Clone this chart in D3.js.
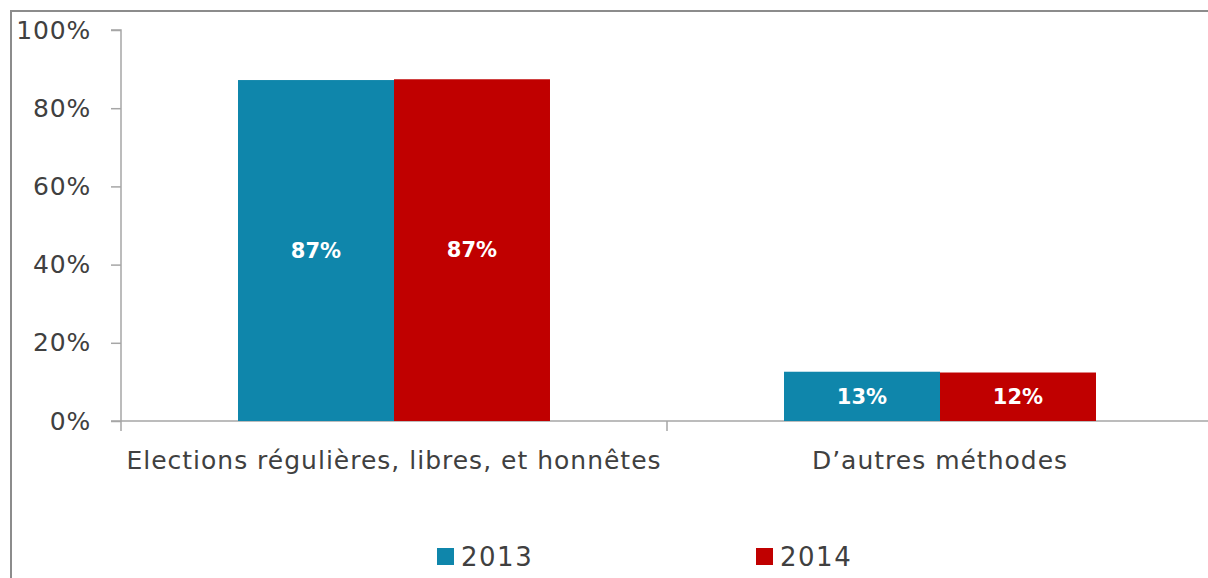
<html>
<head>
<meta charset="utf-8">
<script src="https://d3js.org/d3.v7.min.js"></script>
<style>
body {
	margin: 0;
	background: #fff;
}
text {
	font-family: "Century Gothic", "DejaVu Sans", sans-serif;
}
</style>
</head>
<body>
<div id="chart"></div>
<script>
	var categories = ["Elections régulières, libres, et honnêtes", "D\u2019autres méthodes"];
	var series = ["2013", "2014"];
	var values2013 = [87.2, 12.6];
	var values2014 = [87.4, 12.4];
	var yTicks = [0, 20, 40, 60, 80, 100];

	var colors = ["#0f86ab", "#c00000"];

	var data = categories.map(function(c, i) {
		return { category: c, "2013": values2013[i], "2014": values2014[i] };
	});

	var width = 1208, height = 578;
	var margin = {top: 30, left: 121, bottom: 157};

	var svg = d3.select("#chart").append("svg")
		.attr("width", width)
		.attr("height", height);

	// outer frame
	svg.append("path")
		.attr("d", "M11,578 V11 H1208")
		.attr("fill", "none")
		.attr("stroke", "#8c8c8c")
		.attr("stroke-width", 2);

	var y = d3.scaleLinear()
		.domain([0, 100])
		.range([height - margin.bottom, margin.top]);

	var x0 = d3.scaleBand()
		.domain(categories)
		.range([margin.left, margin.left + 1092])
		.paddingInner(0.4286)
		.paddingOuter(0.2143);

	var x1 = d3.scaleBand()
		.domain(series)
		.range([0, x0.bandwidth()]);

	var z = d3.scaleOrdinal().domain(series).range(colors);

	var step = x0.step();

	// y axis
	var yAxis = svg.append("g")
		.attr("transform", "translate(" + margin.left + ",0)")
		.call(d3.axisLeft(y).tickValues(yTicks).tickSize(10).tickPadding(20).tickFormat(d => d + "%"));
	yAxis.select(".domain").attr("stroke", "#a6a6a6").attr("stroke-width", 1.5)
		.attr("d", "M-10," + y(100) + "H0V" + y(0));
	yAxis.selectAll(".tick line").attr("stroke", "#a6a6a6").attr("stroke-width", 1.5);
	yAxis.selectAll(".tick text").attr("fill", "#404040")
		.style("font-size", "25px").style("letter-spacing", "0.8px");

	// x axis line with boundary ticks
	var xb = svg.append("g")
		.attr("transform", "translate(0," + y(0) + ")");
	xb.append("line")
		.attr("x1", margin.left - 10).attr("x2", width)
		.attr("stroke", "#a6a6a6").attr("stroke-width", 1.5);
	xb.selectAll("line.tk")
		.data(d3.range(categories.length + 1))
		.enter().append("line")
		.attr("class", "tk")
		.attr("x1", d => margin.left + d * step)
		.attr("x2", d => margin.left + d * step)
		.attr("y1", 0).attr("y2", 10)
		.attr("stroke", "#a6a6a6").attr("stroke-width", 1.5);

	xb.selectAll("text.cat")
		.data(categories)
		.enter().append("text")
		.attr("class", "cat")
		.attr("x", d => x0(d) + x0.bandwidth() / 2)
		.attr("y", 48)
		.attr("text-anchor", "middle")
		.attr("fill", "#404040")
		.style("font-size", "25px")
		.style("letter-spacing", "1px")
		.text(d => d);

	// bars
	var groups = svg.selectAll("g.cat")
		.data(data)
		.enter().append("g")
		.attr("class", "cat")
		.attr("transform", d => "translate(" + x0(d.category) + ",0)");

	groups.selectAll("rect")
		.data(d => series.map(k => ({ key: k, value: d[k] })))
		.enter().append("rect")
		.attr("x", d => x1(d.key))
		.attr("y", d => y(d.value))
		.attr("width", x1.bandwidth())
		.attr("height", d => y(0) - y(d.value))
		.attr("fill", d => z(d.key));

	groups.selectAll("text")
		.data(d => series.map(k => ({ key: k, value: d[k] })))
		.enter().append("text")
		.attr("x", d => x1(d.key) + x1.bandwidth() / 2)
		.attr("y", d => (y(d.value) + y(0)) / 2)
		.attr("dy", "0.35em")
		.attr("text-anchor", "middle")
		.attr("fill", "#fff")
		.style("font-size", "21px")
		.style("font-weight", "bold")
		.text(d => Math.round(d.value) + "%");

	// legend
	var legendX = [437, 756];
	var legend = svg.selectAll("g.legend")
		.data(series)
		.enter().append("g")
		.attr("class", "legend")
		.attr("transform", (d, i) => "translate(" + legendX[i] + ",548)");
	legend.append("rect")
		.attr("width", 17).attr("height", 17)
		.attr("fill", d => z(d));
	legend.append("text")
		.attr("x", 24)
		.attr("y", 18)
		.attr("fill", "#404040")
		.style("font-size", "26px")
		.style("letter-spacing", "1.5px")
		.text(d => d);
</script>
</body>
</html>
